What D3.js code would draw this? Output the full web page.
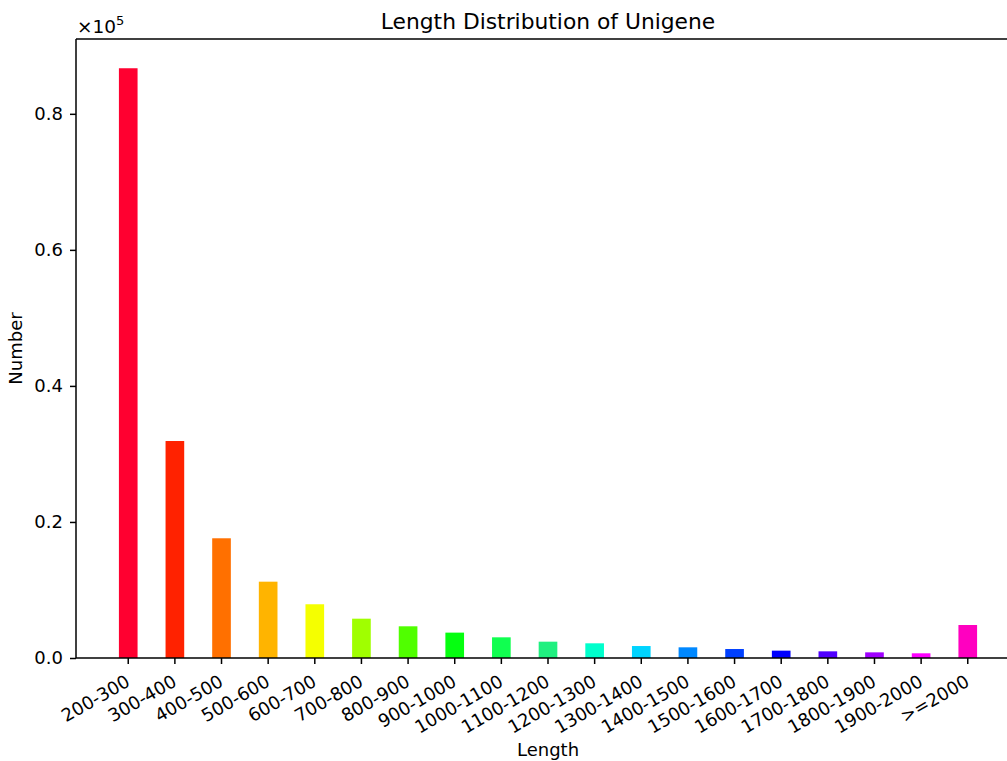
<!DOCTYPE html>
<html>
<head>
<meta charset="utf-8">
<script src="https://cdn.jsdelivr.net/npm/d3@7"></script>
<style>
  html, body { margin: 0; padding: 0; background: #fff; }
  svg { display: block; }
  text { font-family: "DejaVu Sans", sans-serif; fill: #000; }
</style>
</head>
<body>
<div id="chart"></div>
<script>
// Length bins of assembled unigenes
const categories = ["200-300", "300-400", "400-500", "500-600", "600-700", "700-800",
  "800-900", "900-1000", "1000-1100", "1100-1200", "1200-1300", "1300-1400",
  "1400-1500", "1500-1600", "1600-1700", "1700-1800", "1800-1900", "1900-2000", ">=2000"];

// Number of unigenes in each bin
const counts = [86700, 31900, 17600, 11220, 7900, 5780, 4660, 3730, 3040, 2400,
  2160, 1760, 1570, 1320, 1080, 980, 830, 690, 4850];

// One colour per bin, running through the spectrum
const barColors = ["#ff0030", "#ff2200", "#ff7000", "#ffb400", "#f5ff00", "#a0ff00",
  "#50ff00", "#05ff10", "#10ff50", "#20f080", "#00ffcc", "#00d4ff", "#0088ff",
  "#0040ff", "#0000ff", "#5000ff", "#a000ff", "#ff00ff", "#ff00c0"];

const yTicks = [0, 20000, 40000, 60000, 80000];
const yDomainMax = 91000;

const W = 1007, H = 761;
const plot = { left: 76, right: 1020, top: 39, bottom: 658 };

const svg = d3.select("#chart").append("svg")
  .attr("width", W).attr("height", H);

const x = d3.scaleBand()
  .domain(categories)
  .range([plot.left, plot.right])
  .paddingInner(0.6)
  .paddingOuter(0.92);

const y = d3.scaleLinear()
  .domain([0, yDomainMax])
  .range([plot.bottom, plot.top]);

// Bars
svg.append("g").selectAll("rect")
  .data(categories)
  .join("rect")
  .attr("x", d => x(d))
  .attr("width", x.bandwidth())
  .attr("y", (d, i) => y(counts[i]))
  .attr("height", (d, i) => y(0) - y(counts[i]))
  .attr("fill", (d, i) => barColors[i]);

// Y axis
const yAxis = svg.append("g")
  .attr("transform", `translate(${plot.left},0)`)
  .call(d3.axisLeft(y).tickValues(yTicks).tickSize(6).tickPadding(7)
    .tickFormat(v => (v / 1e5).toFixed(1)));
yAxis.select(".domain").remove();
yAxis.selectAll(".tick line").attr("stroke", "#000").attr("stroke-width", 1.5);
yAxis.selectAll(".tick text").style("font-size", "18px");

// X axis with labels slanted 30 degrees, right end under each tick
const xAxis = svg.append("g")
  .attr("transform", `translate(0,${plot.bottom})`)
  .call(d3.axisBottom(x).tickSize(6).tickPadding(7));
xAxis.select(".domain").remove();
xAxis.selectAll(".tick line").attr("stroke", "#000").attr("stroke-width", 1.5);
xAxis.selectAll(".tick text")
  .style("font-size", "18px")
  .attr("text-anchor", "end")
  .attr("x", 0)
  .attr("y", 0)
  .attr("dy", 0)
  .attr("transform", "translate(3,27) rotate(-30)");

// Frame
const frame = svg.append("g").attr("fill", "none").attr("stroke", "#000").attr("stroke-width", 1.5);
frame.append("line").attr("x1", plot.left).attr("x2", plot.left).attr("y1", plot.top).attr("y2", plot.bottom);
frame.append("line").attr("x1", plot.left).attr("x2", plot.right).attr("y1", plot.bottom).attr("y2", plot.bottom);
frame.append("line").attr("x1", plot.left).attr("x2", plot.right).attr("y1", plot.top).attr("y2", plot.top);
frame.append("line").attr("x1", plot.right).attr("x2", plot.right).attr("y1", plot.top).attr("y2", plot.bottom);

// Scale multiplier above the y axis
const mult = svg.append("text")
  .attr("x", plot.left + 1)
  .attr("y", plot.top - 6)
  .style("font-size", "18.5px");
mult.append("tspan").text("×10");
mult.append("tspan").attr("dy", "-8").style("font-size", "13px").text("5");

// Title and axis labels
svg.append("text")
  .attr("x", (plot.left + plot.right) / 2)
  .attr("y", 29)
  .attr("text-anchor", "middle")
  .style("font-size", "21.8px")
  .text("Length Distribution of Unigene");

svg.append("text")
  .attr("x", (plot.left + plot.right) / 2)
  .attr("y", 756)
  .attr("text-anchor", "middle")
  .style("font-size", "18px")
  .text("Length");

svg.append("text")
  .attr("transform", `translate(22,${(plot.top + plot.bottom) / 2}) rotate(-90)`)
  .attr("text-anchor", "middle")
  .style("font-size", "18px")
  .text("Number");
</script>
</body>
</html>
